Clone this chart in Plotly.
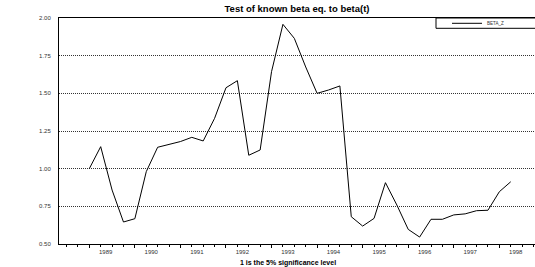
import plotly.graph_objects as go

# Quarterly data, 1988Q4 .. 1998Q1 (index 0 .. 37)
beta_z = [1.00, 1.146, 0.858, 0.646, 0.668, 0.98, 1.142, 1.162, 1.18, 1.208,
          1.184, 1.334, 1.537, 1.584, 1.089, 1.124, 1.644, 1.958, 1.865, 1.675,
          1.50, 1.522, 1.549, 0.681, 0.619, 0.67, 0.907, 0.759, 0.597, 0.546,
          0.664, 0.664, 0.693, 0.70, 0.721, 0.724, 0.847, 0.913]
quarter_index = list(range(len(beta_z)))
year_labels = ["1989", "1990", "1991", "1992", "1993", "1994", "1995", "1996", "1997", "1998"]
year_pos = [1 + 4 * i for i in range(len(year_labels))]
year_edge_pos = [4 * i for i in range(len(year_labels))]
y_ticks = [0.50, 0.75, 1.00, 1.25, 1.50, 1.75, 2.00]

W, H = 535, 267
L, R, T, B = 59, 0, 18, 23
pw, ph = W - L - R, H - T - B
x0_px, step_px = 89.3, 11.39
xr = [(L - x0_px) / step_px, (W - R - x0_px) / step_px]

def px_x(p):
    return (p - L) / pw

def px_y(p):
    return 1 - (p - T) / ph

fig = go.Figure()
fig.add_trace(go.Scatter(x=quarter_index, y=beta_z, mode="lines", name="BETA_Z",
                         line=dict(color="black", width=1)))
fig.add_trace(go.Scatter(x=quarter_index, y=beta_z, mode="lines", xaxis="x2",
                         line=dict(color="rgba(0,0,0,0)", width=0),
                         showlegend=False, hoverinfo="skip"))

axis_font = dict(family="Liberation Sans, Arial, sans-serif", size=6, color="#333")

fig.update_layout(
    width=W, height=H,
    margin=dict(l=L, r=R, t=T, b=B, autoexpand=False),
    paper_bgcolor="white", plot_bgcolor="white",
    font=dict(family="Liberation Sans, Arial, sans-serif", color="black"),
    title=dict(text="<b>Test of known beta eq. to beta(t)</b>", x=0.5, xref="paper",
               y=1 - 9 / H, yref="container", yanchor="middle", xanchor="center",
               font=dict(size=9.5, color="black"), automargin=False),
    xaxis=dict(range=xr, tickmode="array", tickvals=year_edge_pos, showticklabels=False,
               ticks="outside", ticklen=3, tickcolor="black", tickwidth=1,
               minor=dict(tick0=0, dtick=1, ticks="outside", ticklen=2, tickcolor="black"),
               showline=True, linecolor="black", linewidth=1, mirror=True,
               showgrid=False, zeroline=False, fixedrange=True, automargin=False),
    xaxis2=dict(range=xr, overlaying="x", side="bottom", anchor="y",
                tickmode="array", tickvals=year_pos, ticktext=year_labels,
                ticks="", ticklabelshift=5, ticklabelstandoff=3, tickfont=axis_font,
                showline=False, showgrid=False, zeroline=False, fixedrange=True,
                automargin=False),
    yaxis=dict(range=[0.5, 2.0], tickmode="array", tickvals=y_ticks, tickformat=".2f",
               ticks="", tickfont=axis_font, ticklabelstandoff=6,
               showline=True, linecolor="black", linewidth=1, mirror=False,
               showgrid=True, gridcolor="#333", gridwidth=1, griddash="1px,1px",
               zeroline=False, fixedrange=True, automargin=False),
    legend=dict(x=px_x(447), y=px_y(23.3), xanchor="left", yanchor="middle",
                bgcolor="rgba(0,0,0,0)", borderwidth=0, itemwidth=30,
                font=dict(size=4.5, color="#333"), tracegroupgap=0),
    showlegend=True,
    shapes=[dict(type="rect", xref="paper", yref="paper",
                 x0=px_x(436), x1=px_x(545), y0=px_y(28.3), y1=1,
                 line=dict(color="black", width=1), fillcolor="rgba(0,0,0,0)")],
    annotations=[dict(text="<b>1 is the 5% significance level</b>", xref="paper", yref="paper",
                      x=px_x(288), y=px_y(263), xanchor="center", yanchor="middle",
                      showarrow=False, font=dict(size=7, color="black"))],
)

fig.write_html("out.html", config={"displayModeBar": False},
               post_script="document.body.style.margin='0';document.body.style.overflow='hidden';")
